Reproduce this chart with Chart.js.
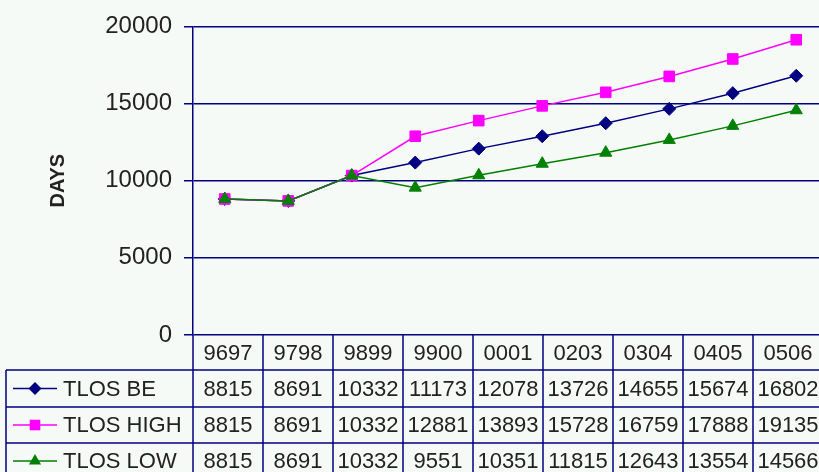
<!DOCTYPE html>
<html>
<head>
<meta charset="utf-8">
<script src="https://cdn.jsdelivr.net/npm/chart.js@4.4.0/dist/chart.umd.min.js"></script>
<style>
  html, body { margin: 0; padding: 0; background: #f6faf6; overflow: hidden; }
  #wrap { position: relative; width: 860px; height: 472px; }
</style>
</head>
<body>
<div id="wrap"><canvas id="lineChart"></canvas></div>
<script>
var categories = ['9697', '9798', '9899', '9900', '0001', '0102', '0203', '0304', '0405', '0506'];
var tlosBe   = [8815, 8691, 10332, 11173, 12078, 12880, 13726, 14655, 15674, 16802];
var tlosHigh = [8815, 8691, 10332, 12881, 13893, 14850, 15728, 16759, 17888, 19135];
var tlosLow  = [8815, 8691, 10332, 9551, 10351, 11100, 11815, 12643, 13554, 14566];
var yTicks = [0, 5000, 10000, 15000, 20000];
var tableHidden = ['0102']; // the original data table skips this year

var navy = '#000080';
var textColor = '#222222';
var fontFamily = '"Liberation Sans", Arial, sans-serif';

var series = [
    { label: 'TLOS BE', data: tlosBe, color: navy, style: 'rectRot', radius: 6.5 },
    { label: 'TLOS HIGH', data: tlosHigh, color: '#ff00ff', style: 'rect', radius: 7.5 },
    { label: 'TLOS LOW', data: tlosLow, color: '#008000', style: 'triangle', radius: 7 }
];

function drawMarker(ctx, style, x, y, r) {
    ctx.beginPath();
    if (style === 'rectRot') {
        ctx.moveTo(x, y - r); ctx.lineTo(x + r, y); ctx.lineTo(x, y + r); ctx.lineTo(x - r, y);
    } else if (style === 'rect') {
        var s = r * Math.SQRT1_2;
        ctx.rect(x - s, y - s, 2 * s, 2 * s);
    } else {
        ctx.moveTo(x, y - r); ctx.lineTo(x + r * 0.87, y + r * 0.5); ctx.lineTo(x - r * 0.87, y + r * 0.5);
    }
    ctx.closePath();
    ctx.fill();
}

// data table under the plot, drawn on the same canvas
var dataTable = {
    id: 'dataTable',
    afterDraw: function(chart) {
        var ctx = chart.ctx;
        var left = chart.chartArea.left;
        var top = chart.chartArea.bottom;
        var colW = 70;
        var rows = [top, top + 35, top + 72, top + 108, top + 144];
        var cols = categories.filter(function(c) { return tableHidden.indexOf(c) < 0; });
        var rightEnd = chart.width;

        ctx.save();
        ctx.strokeStyle = navy;
        ctx.lineWidth = 1.5;
        ctx.beginPath();
        for (var r = 1; r < rows.length; r++) {
            ctx.moveTo(6, rows[r]); ctx.lineTo(rightEnd, rows[r]);
        }
        ctx.moveTo(6, rows[1]); ctx.lineTo(6, rows[4]);
        for (var c = 0; c <= cols.length; c++) {
            ctx.moveTo(left + c * colW, rows[0]); ctx.lineTo(left + c * colW, rows[4]);
        }
        ctx.stroke();

        ctx.fillStyle = textColor;
        ctx.font = '22px ' + fontFamily;
        ctx.textAlign = 'center';
        ctx.textBaseline = 'middle';
        cols.forEach(function(cat, i) {
            var cx = left + i * colW + colW / 2;
            ctx.fillText(cat, cx, (rows[0] + rows[1]) / 2 + 1);
            var idx = categories.indexOf(cat);
            series.forEach(function(s, k) {
                ctx.fillStyle = textColor;
                ctx.fillText(String(s.data[idx]), cx, (rows[k + 1] + rows[k + 2]) / 2 + 1);
            });
        });

        series.forEach(function(s, k) {
            var y = (rows[k + 1] + rows[k + 2]) / 2;
            ctx.strokeStyle = s.color;
            ctx.lineWidth = 1.5;
            ctx.beginPath();
            ctx.moveTo(13, y); ctx.lineTo(57, y);
            ctx.stroke();
            ctx.fillStyle = s.color;
            drawMarker(ctx, s.style, 35, y, s.radius);
            ctx.fillStyle = textColor;
            ctx.textAlign = 'left';
            ctx.fillText(s.label, 63, y + 1);
        });
        ctx.restore();
    }
};

var ctx = document.getElementById('lineChart').getContext('2d');
var lineChart = new Chart(ctx, {
    type: 'line',
    data: {
        labels: categories,
        datasets: series.map(function(s, k) {
            return {
                label: s.label,
                data: s.data,
                borderColor: s.color,
                backgroundColor: s.color,
                borderWidth: 1.5,
                pointStyle: s.style,
                pointRadius: s.radius,
                pointBorderWidth: 1,
                fill: false,
                tension: 0,
                order: 2 - k
            };
        })
    },
    options: {
        responsive: true,
        maintainAspectRatio: false,
        animation: false,
        layout: { padding: { left: 0, top: 26, right: 32, bottom: 137 } },
        plugins: {
            legend: { display: false },
            tooltip: { enabled: false }
        },
        scales: {
            x: {
                display: false,
                offset: true
            },
            y: {
                min: 0,
                max: 20000,
                afterFit: function(scale) { scale.width = 193; },
                afterBuildTicks: function(scale) {
                    scale.ticks = yTicks.map(function(v) { return { value: v }; });
                },
                ticks: {
                    padding: 12,
                    color: textColor,
                    font: { family: fontFamily, size: 24 },
                    callback: function(value) { return String(value); }
                },
                grid: {
                    color: navy,
                    lineWidth: 1.5,
                    tickLength: 9
                },
                border: { color: navy, width: 1.5 },
                title: {
                    display: true,
                    text: 'DAYS',
                    color: textColor,
                    font: { family: fontFamily, size: 20, weight: 'bold' },
                    padding: { top: 46 }
                }
            }
        }
    },
    plugins: [dataTable]
});
</script>
</body>
</html>
